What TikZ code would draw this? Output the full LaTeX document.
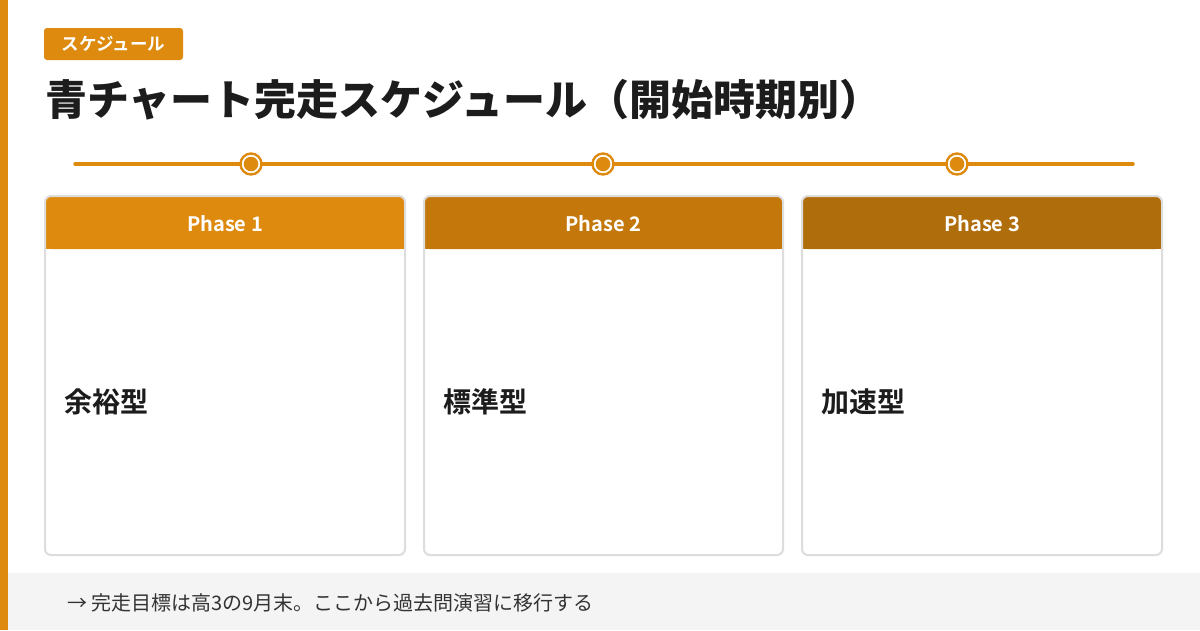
\documentclass[tikz,border=0pt]{standalone}
\usepackage{fontspec}
\setmainfont{Noto Sans CJK JP}[BoldFont={Noto Sans CJK JP Bold}]
\newfontfamily\jpblack{Noto Sans CJK JP Black}
\usetikzlibrary{positioning}

\definecolor{accent}{HTML}{DD8A0E}
\definecolor{phaseA}{HTML}{DD8A0E}
\definecolor{phaseB}{HTML}{C4780B}
\definecolor{phaseC}{HTML}{B06D0B}
\definecolor{cardline}{HTML}{DDDDDD}
\definecolor{footbg}{HTML}{F4F4F4}
\definecolor{ink}{HTML}{1C1C1C}

\tikzset{
  badge/.style={fill=accent, rounded corners=3pt, text=white, font=\fontsize{17.5}{17.5}\selectfont\bfseries, minimum width=139pt, minimum height=32pt, inner sep=0pt},
  bigtitle/.style={text=ink, font=\fontsize{42}{42}\selectfont\jpblack, inner sep=0pt, anchor=west},
  timeline/.style={accent, line width=3.5pt, line cap=round},
  ring/.style={circle, draw=accent, fill=white, line width=2.4pt, minimum size=21pt, inner sep=0pt},
  cardbox/.style={draw=cardline, line width=2pt, rounded corners=6pt},
  phasetext/.style={text=white, font=\fontsize{20}{20}\selectfont\bfseries, inner sep=0pt},
  typetext/.style={text=ink, font=\fontsize{28}{28}\selectfont\bfseries, inner sep=0pt, anchor=west},
  foottext/.style={text=black!80, font=\fontsize{20}{20}\selectfont, inner sep=0pt, anchor=west}
}

\begin{document}
\begin{tikzpicture}[x=1pt, y=-1pt]
\useasboundingbox (0,0) rectangle (1200,630);
\fill[white] (0,0) rectangle (1200,630);

% footer band and left accent
\fill[footbg] (8,573) rectangle (1200,630);
\fill[accent] (0,0) rectangle (8,630);

% heading
\node[badge] (badge) at (113.5,44) {スケジュール};
\node[bigtitle] (title) at (45,100) {青チャート完走スケジュール（開始時期別）};

% timeline
\coordinate (tl_start) at (75,164);
\coordinate (tl_end) at (1133,164);
\node[ring] (dot1) at (251,164) {};
\node[ring] (dot2) at (603,164) {};
\node[ring] (dot3) at (957,164) {};
\fill[accent] (dot1) circle (7.3);
\fill[accent] (dot2) circle (7.3);
\fill[accent] (dot3) circle (7.3);
\draw[timeline] (tl_start) -- (dot1);
\draw[timeline] (dot1) -- (dot2);
\draw[timeline] (dot2) -- (dot3);
\draw[timeline] (dot3) -- (tl_end);

% card 1
\fill[white, rounded corners=6pt] (45,196) rectangle (405,555);
\fill[phaseA, rounded corners=6pt] (45,196) rectangle (405,249);
\fill[phaseA] (45,236) rectangle (405,249);
\draw[cardbox] (45,196) rectangle (405,555);
\node[phasetext] (head1) at (225,224) {Phase 1};
\node[typetext] (type1) at (64,402) {余裕型};

% card 2
\fill[white, rounded corners=6pt] (424,196) rectangle (783,555);
\fill[phaseB, rounded corners=6pt] (424,196) rectangle (783,249);
\fill[phaseB] (424,236) rectangle (783,249);
\draw[cardbox] (424,196) rectangle (783,555);
\node[phasetext] (head2) at (603.5,224) {Phase 2};
\node[typetext] (type2) at (443,402) {標準型};

% card 3
\fill[white, rounded corners=6pt] (802,196) rectangle (1162,555);
\fill[phaseC, rounded corners=6pt] (802,196) rectangle (1162,249);
\fill[phaseC] (802,236) rectangle (1162,249);
\draw[cardbox] (802,196) rectangle (1162,555);
\node[phasetext] (head3) at (982,224) {Phase 3};
\node[typetext] (type3) at (821,402) {加速型};

% footer note
\node[foottext] (note) at (67,603) {→ 完走目標は高3の9月末。ここから過去問演習に移行する};
\end{tikzpicture}
\end{document}
